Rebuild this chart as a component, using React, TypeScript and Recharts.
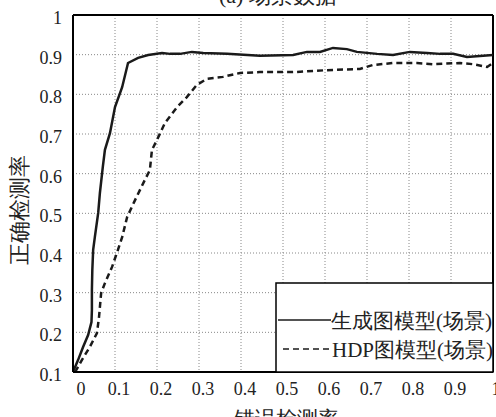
import React from 'react';
import { LineChart, Line, XAxis, YAxis, CartesianGrid, ReferenceLine } from 'recharts';

const genX = [0, 0.012, 0.024, 0.036, 0.044, 0.045, 0.045, 0.046, 0.048, 0.052, 0.06, 0.064, 0.071, 0.076, 0.088, 0.1, 0.117, 0.131, 0.155, 0.179, 0.212, 0.231, 0.255, 0.283, 0.31, 0.367, 0.445, 0.524, 0.557, 0.588, 0.619, 0.652, 0.676, 0.724, 0.762, 0.802, 0.843, 0.874, 0.905, 0.938, 1.0];
const genY = [0.1, 0.13, 0.163, 0.193, 0.226, 0.256, 0.307, 0.357, 0.408, 0.44, 0.501, 0.551, 0.617, 0.66, 0.702, 0.768, 0.818, 0.879, 0.892, 0.899, 0.904, 0.902, 0.902, 0.907, 0.904, 0.902, 0.897, 0.899, 0.907, 0.907, 0.917, 0.914, 0.907, 0.902, 0.899, 0.907, 0.904, 0.902, 0.902, 0.894, 0.899];

const hdpX = [0.005, 0.021, 0.04, 0.057, 0.062, 0.067, 0.076, 0.093, 0.107, 0.117, 0.129, 0.148, 0.171, 0.183, 0.188, 0.2, 0.219, 0.248, 0.271, 0.295, 0.319, 0.357, 0.398, 0.445, 0.524, 0.605, 0.683, 0.714, 0.762, 0.819, 0.857, 0.921, 0.952, 0.986, 1.0];
const hdpY = [0.1, 0.13, 0.163, 0.198, 0.239, 0.299, 0.324, 0.365, 0.408, 0.44, 0.491, 0.534, 0.584, 0.609, 0.66, 0.685, 0.728, 0.768, 0.793, 0.824, 0.839, 0.844, 0.854, 0.856, 0.856, 0.861, 0.864, 0.874, 0.879, 0.879, 0.876, 0.879, 0.876, 0.869, 0.879];

const xTicks = [0, 0.1, 0.2, 0.3, 0.4, 0.5, 0.6, 0.7, 0.8, 0.9, 1];
const yTicks = [0.1, 0.2, 0.3, 0.4, 0.5, 0.6, 0.7, 0.8, 0.9, 1];

const seriesNames = ['生成图模型(场景)', 'HDP图模型(场景)'];
const title = '(a) 场景数据';
const xLabel = '错误检测率';
const yLabel = '正确检测率';

const genData = genX.map((x, i) => ({ x, y: genY[i] }));
const hdpData = hdpX.map((x, i) => ({ x, y: hdpY[i] }));

const FONT = "'Liberation Serif', serif";

const fmt = (v: number) => (v === 0 ? '0' : v === 1 ? '1' : String(v));

const XTick = (props: any) => {
  const { x, payload } = props;
  const v = payload.value;
  const dx = v === 0 ? 8 : 4;
  return (
    <text x={x + dx} y={395} textAnchor="middle" fontSize={18} style={{ fontFamily: FONT }} fill="#222">
      {fmt(v)}
    </text>
  );
};

const YTick = (props: any) => {
  const { y, payload } = props;
  return (
    <text x={62} y={y + 9} textAnchor="end" fontSize={18} style={{ fontFamily: FONT }} fill="#222">
      {fmt(payload.value)}
    </text>
  );
};

export default function App() {
  return (
    <div style={{ position: 'absolute', left: 0, top: 0, width: 496, height: 417, background: '#fff', overflow: 'hidden' }}>
      <LineChart width={496} height={417} margin={{ top: 15, right: 3, left: 0, bottom: 0 }}>
        <CartesianGrid stroke="#888" strokeDasharray="1 2" />
        <XAxis
          type="number"
          dataKey="x"
          domain={[0, 1]}
          ticks={xTicks}
          tick={<XTick />}
          tickLine={false}
          height={45}
          axisLine={{ stroke: '#000', strokeWidth: 2 }}
          allowDataOverflow
        />
        <YAxis
          type="number"
          dataKey="y"
          domain={[0.1, 1]}
          ticks={yTicks}
          tick={<YTick />}
          tickLine={false}
          width={73}
          axisLine={{ stroke: '#000', strokeWidth: 2 }}
          allowDataOverflow
        />
        <ReferenceLine y={1} stroke="#000" strokeWidth={2} />
        <ReferenceLine x={1} stroke="#000" strokeWidth={2} />
        <Line data={genData} dataKey="y" type="linear" stroke="#1a1a1a" strokeWidth={2.5} dot={false} isAnimationActive={false} name={seriesNames[0]} />
        <Line data={hdpData} dataKey="y" type="linear" stroke="#1a1a1a" strokeWidth={2.5} strokeDasharray="6 4" dot={false} isAnimationActive={false} name={seriesNames[1]} />
      </LineChart>
      <svg width={496} height={417} style={{ position: 'absolute', left: 0, top: 0, pointerEvents: 'none' }}>
        <text x={278} y={3} textAnchor="middle" fontSize={22} style={{ fontFamily: FONT }} fill="#222">{title}</text>
        <text x={286} y={426} textAnchor="middle" fontSize={21} style={{ fontFamily: FONT }} fill="#222">{xLabel}</text>
        <text x={0} y={0} transform="translate(27,210) rotate(-90)" textAnchor="middle" fontSize={22} style={{ fontFamily: FONT }} fill="#222">{yLabel}</text>
        <rect x={276} y={283} width={217} height={89} fill="#fff" stroke="#000" strokeWidth={1.5} />
        <line x1={278} y1={320} x2={331} y2={320} stroke="#1a1a1a" strokeWidth={1.5} />
        <text x={331} y={328} fontSize={21} style={{ fontFamily: FONT }} fill="#222">{seriesNames[0]}</text>
        <line x1={283} y1={349} x2={331} y2={349} stroke="#1a1a1a" strokeWidth={1.5} strokeDasharray="6 4" />
        <text x={332} y={357} fontSize={21} style={{ fontFamily: FONT }} fill="#222">{seriesNames[1]}</text>
      </svg>
    </div>
  );
}
